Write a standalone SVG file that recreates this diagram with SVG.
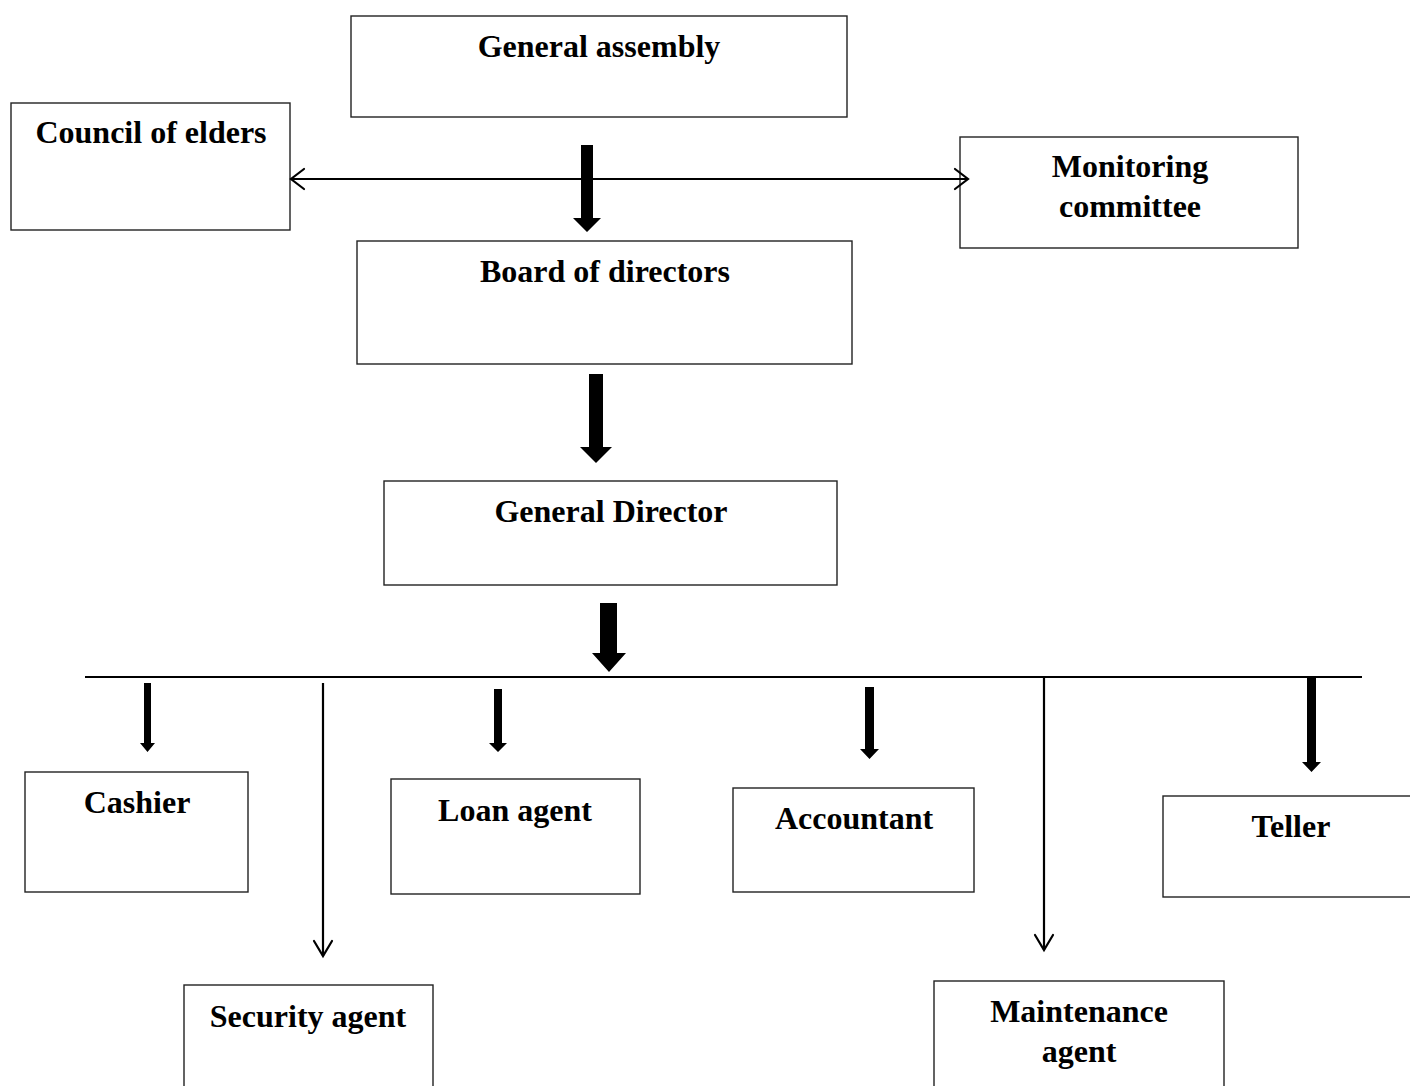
<svg xmlns="http://www.w3.org/2000/svg" width="1410" height="1086" viewBox="0 0 1410 1086">
<defs>
<style>
.box{fill:#fff;stroke:#222;stroke-width:1.4}
.t{font-family:"Liberation Serif","Times New Roman",serif;font-weight:bold;font-size:32px;text-anchor:middle;fill:#000}
.thin{stroke:#000;stroke-width:2.2;fill:none}
.open{stroke:#000;stroke-width:2.2;fill:none;stroke-linecap:round}
.thick{fill:#000}
</style>
</defs>
<rect width="1410" height="1086" fill="#fff"/>
<g id="general-assembly"><rect class="box" x="351" y="16" width="496" height="101"/><text class="t" x="599" y="57">General assembly</text></g>
<g id="council-of-elders"><rect class="box" x="11" y="103" width="279" height="127"/><text class="t" x="151" y="143">Council of elders</text></g>
<g id="monitoring-committee"><rect class="box" x="960" y="137" width="338" height="111"/><text class="t" x="1130" y="177">Monitoring</text><text class="t" x="1130" y="217">committee</text></g>
<g id="board-of-directors"><rect class="box" x="357" y="241" width="495" height="123"/><text class="t" x="605" y="282">Board of directors</text></g>
<g id="general-director"><rect class="box" x="384" y="481" width="453" height="104"/><text class="t" x="611" y="522">General Director</text></g>
<g id="cashier"><rect class="box" x="25" y="772" width="223" height="120"/><text class="t" x="137" y="813">Cashier</text></g>
<g id="loan-agent"><rect class="box" x="391" y="779" width="249" height="115"/><text class="t" x="515" y="821">Loan agent</text></g>
<g id="accountant"><rect class="box" x="733" y="788" width="241" height="104"/><text class="t" x="854" y="829">Accountant</text></g>
<g id="teller"><rect class="box" x="1163" y="796" width="260" height="101"/><text class="t" x="1291" y="837">Teller</text></g>
<g id="security-agent"><rect class="box" x="184" y="985" width="249" height="110"/><text class="t" x="308" y="1027">Security agent</text></g>
<g id="maintenance-agent"><rect class="box" x="934" y="981" width="290" height="115"/><text class="t" x="1079" y="1022">Maintenance</text><text class="t" x="1079" y="1062">agent</text></g>
<g id="connectors">
<line class="thin" x1="291" y1="179" x2="968" y2="179"/>
<polyline class="open" points="304,169 291,179 304,189"/>
<polyline class="open" points="955,169 968,179 955,189"/>
<polygon class="thick" points="581,145 593,145 593,218 601,218 587,232 573,218 581,218"/>
<polygon class="thick" points="589,374 603,374 603,447 612,447 596,463 580,447 589,447"/>
<polygon class="thick" points="600,603 617,603 617,653 626,653 609,672 592,653 600,653"/>
<line class="thin" x1="85" y1="677" x2="1362" y2="677"/>
<polygon class="thick" points="144,683 151,683 151,743 155,743 147.5,752 140,743 144,743"/>
<polygon class="thick" points="494,689 502,689 502,743 507,743 498,752 489,743 494,743"/>
<polygon class="thick" points="865,687 874,687 874,749 879,749 869.5,759 860,749 865,749"/>
<polygon class="thick" points="1307,677 1316,677 1316,762 1321,762 1311.5,772 1302,762 1307,762"/>
<line class="thin" x1="323" y1="683" x2="323" y2="956"/>
<polyline class="open" points="314,941 323,956 332,941"/>
<line class="thin" x1="1044" y1="677" x2="1044" y2="950"/>
<polyline class="open" points="1035,935 1044,950 1053,935"/>
</g>
</svg>
